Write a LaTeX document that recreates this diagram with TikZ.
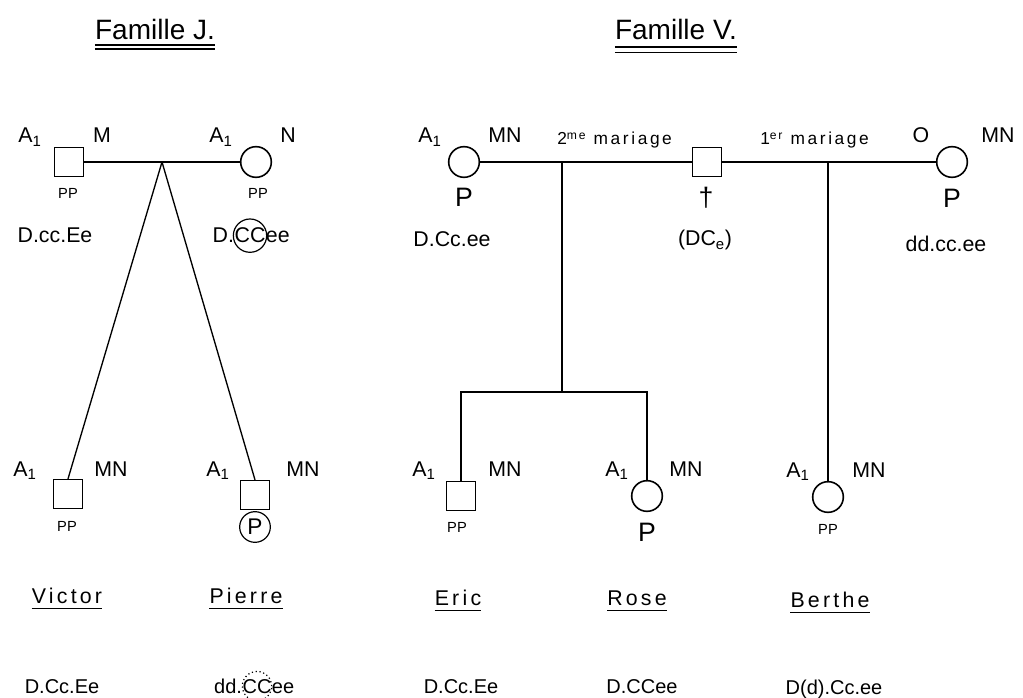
\documentclass[tikz,border=0pt]{standalone}
\usepackage{fontspec}
\setmainfont{Liberation Sans}
\newfontfamily\spacedfont[LetterSpace=15]{Liberation Sans}
\begin{document}
\begin{tikzpicture}[x=0.75pt,y=-0.75pt,
  lbl/.style={anchor=base,inner sep=0pt,font=\fontsize{16}{18}\selectfont},
  gen/.style={anchor=base,inner sep=0pt,font=\fontsize{15}{18}\selectfont},
  sm/.style={anchor=base,inner sep=0pt,font=\fontsize{11}{13}\selectfont},
  bigp/.style={anchor=base,inner sep=0pt,font=\fontsize{20}{22}\selectfont},
  nm/.style={anchor=base,inner sep=0pt,font=\spacedfont\fontsize{16}{18}\selectfont},
  ttl/.style={anchor=base,inner sep=0pt,font=\fontsize{21}{24}\selectfont},
  mar/.style={anchor=base west,inner sep=0pt,font=\spacedfont\fontsize{13}{15}\selectfont},
  male/.style={draw,rectangle,line width=1.2pt,minimum size=21.5pt,inner sep=0pt},
  female/.style={draw,circle,line width=1.2pt,minimum size=23pt,inner sep=0pt},
  ring/.style={draw,circle,line width=0.9pt,inner sep=0pt},
  rel/.style={line width=1.2pt},
  uline/.style={line width=0.9pt}]
\useasboundingbox (0,0) rectangle (1023,698);

% ---------------- Famille J. ----------------
\node[ttl] (tJ) at (155,40) {Famille J.};
\draw[uline] ([yshift=-3.75pt]tJ.base west) -- ([yshift=-3.75pt]tJ.base east);
\draw[uline] ([yshift=-6.75pt]tJ.base west) -- ([yshift=-6.75pt]tJ.base east);

\node[male] (jM) at (69,162) {};
\node[female] (jN) at (256,162) {};
\coordinate (jJ) at (162,162);
\draw[rel] (jM) -- (jN);

\node[lbl] (jMa) at (30,143) {A\textsubscript{1}};
\node[lbl] (jMb) at (102,143) {M};
\node[lbl] (jNa) at (221,143) {A\textsubscript{1}};
\node[lbl] (jNb) at (288,143) {N};
\node[sm] (jMp) at (68,199) {PP};
\node[sm] (jNp) at (258,199) {PP};
\node[lbl] (jMg) at (55,243) {D.cc.Ee};
\node[lbl] (jNg) at (250,243) {CC};
\node[lbl,anchor=base east] (jNg1) at (jNg.base west) {D.};
\node[lbl,anchor=base west] (jNg2) at (jNg.base east) {ee};
\node[ring,minimum size=25pt] (jNr) at (jNg.center) {};

\node[male] (victor) at (68,494) {};
\node[male] (pierre) at (255,495) {};
\draw[line width=1pt] (jJ) -- (victor.north);
\draw[line width=1pt] (jJ) -- (pierre.north);

\node[lbl] (vica) at (25,476) {A\textsubscript{1}};
\node[lbl] (vicb) at (111,476) {MN};
\node[sm] (vicp) at (67,531) {PP};
\node[lbl] (piea) at (218,476) {A\textsubscript{1}};
\node[lbl] (pieb) at (303,476) {MN};
\node[ring,minimum size=23pt,font=\fontsize{17}{19}\selectfont] (piep) at (255,527) {P};

\node[nm] (vicn) at (67,603) {Victor};
\draw[uline] ([yshift=-4pt]vicn.base west) -- ([yshift=-4pt]vicn.base east);
\node[nm] (pien) at (246,603) {Pierre};
\draw[uline] ([yshift=-4pt]pien.base west) -- ([yshift=-4pt]pien.base east);

\node[gen] (vicg) at (62,693) {D.Cc.Ee};
\node[gen] (pieg) at (257,693) {CC};
\node[gen,anchor=base east] (pieg1) at (pieg.base west) {dd.};
\node[gen,anchor=base west] (pieg2) at (pieg.base east) {ee};
\node[ring,dotted,minimum size=22pt] (pier) at (pieg.center) {};

% ---------------- Famille V. ----------------
\node[ttl] (tV) at (676,40) {Famille V.};
\draw[uline] ([yshift=-5.25pt]tV.base west) -- ([yshift=-5.25pt]tV.base east);
\draw[line width=0.6pt] ([yshift=-9pt]tV.base west) -- ([yshift=-9pt]tV.base east);

\node[female] (vA) at (464,162) {};
\node[male] (vH) at (707,162) {};
\node[female] (vO) at (952,162) {};
\draw[rel] (vA) -- (vH);
\draw[rel] (vH) -- (vO);
\coordinate (m2) at (562,162);
\coordinate (m1) at (828,162);

\node[lbl] (vAa) at (430,143) {A\textsubscript{1}};
\node[lbl] (vAb) at (505,143) {MN};
\node[mar] (mar2) at (557,145) {2\textsuperscript{me} mariage};
\node[mar] (mar1) at (760,145) {1\textsuperscript{er} mariage};
\node[lbl] (vOa) at (921,143) {O};
\node[lbl] (vOb) at (998,143) {MN};

\node[bigp] (vAp) at (464,207) {P};
\node[bigp] (vHd) at (706,207) {†};
\node[bigp] (vOp) at (952,208) {P};

\node[lbl] (vAg) at (452,247) {D.Cc.ee};
\node[lbl] (vHg) at (705,246) {(DC\textsubscript{e})};
\node[lbl] (vOg) at (946,252) {dd.cc.ee};

\node[male] (eric) at (461,496) {};
\node[female] (rose) at (647,496) {};
\node[female] (berthe) at (828,497) {};
\coordinate (br) at (562,392);
\draw[rel] (m2) -- (br);
\draw[rel] (eric.north) -- (eric.north |- br) -- (rose.north |- br) -- (rose.north);
\draw[rel] (m1) -- (berthe.north);

\node[lbl] (erica) at (424,476) {A\textsubscript{1}};
\node[lbl] (ericb) at (505,476) {MN};
\node[sm] (ericp) at (457,532) {PP};
\node[lbl] (rosea) at (617,476) {A\textsubscript{1}};
\node[lbl] (roseb) at (686,476) {MN};
\node[bigp] (rosep) at (647,541) {P};
\node[lbl] (bera) at (798,477) {A\textsubscript{1}};
\node[lbl] (berb) at (869,477) {MN};
\node[sm] (berp) at (828,534) {PP};

\node[nm] (ericn) at (458,605) {Eric};
\draw[uline] ([yshift=-4pt]ericn.base west) -- ([yshift=-4pt]ericn.base east);
\node[nm] (rosen) at (637,605) {Rose};
\draw[uline] ([yshift=-4pt]rosen.base west) -- ([yshift=-4pt]rosen.base east);
\node[nm] (bern) at (830,607) {Berthe};
\draw[uline] ([yshift=-4pt]bern.base west) -- ([yshift=-4pt]bern.base east);

\node[gen] (ericg) at (461,693) {D.Cc.Ee};
\node[gen] (roseg) at (642,693) {D.CCee};
\node[gen] (berg) at (834,694) {D(d).Cc.ee};
\end{tikzpicture}
\end{document}
